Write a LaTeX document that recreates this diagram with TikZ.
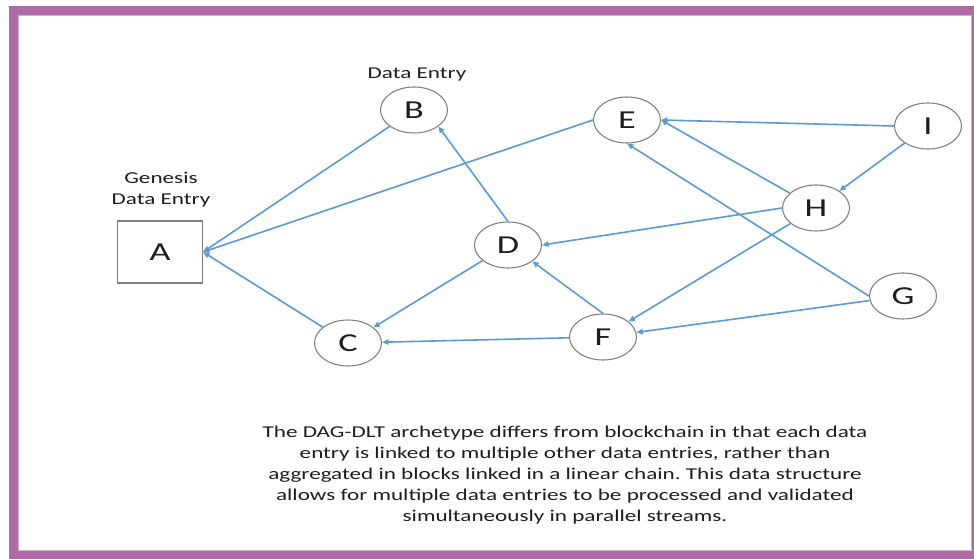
\documentclass[tikz,border=0pt]{standalone}
\usepackage{fontspec}
\setmainfont{Carlito}[FakeStretch=1.4]
\usetikzlibrary{arrows.meta,shapes.geometric}
\frenchspacing
\definecolor{framepurple}{RGB}{173,108,166}
\definecolor{frameedge}{RGB}{214,172,210}
\definecolor{linkblue}{RGB}{91,155,213}
\definecolor{outline}{RGB}{128,128,128}
\definecolor{ink}{RGB}{30,30,30}
\tikzset{
  entry/.style={ellipse, draw=outline, line width=0.8pt, fill=white,
    minimum width=50.25pt, minimum height=34.5pt, inner sep=0pt,
    text=ink, font=\fontsize{19.4}{22}\selectfont},
  genesis/.style={rectangle, draw=outline, line width=0.8pt, fill=white,
    minimum width=63.75pt, minimum height=46.5pt, inner sep=0pt,
    text=ink, font=\fontsize{19.4}{22}\selectfont},
  caption/.style={text=ink, font=\fontsize{12.4}{15.75}\selectfont, inner sep=0pt},
  link/.style={draw=linkblue, line width=1.2pt,
    -{Triangle[length=4.8pt,width=4pt]}, shorten >=0pt}
}
\begin{document}
\begin{tikzpicture}[x=0.75pt,y=-0.75pt]
  \useasboundingbox (0,0) rectangle (974,559);
  % frame
  \fill[framepurple] (9,6) rectangle (974,559);
  \fill[white] (18,15) rectangle (971,550);
  \draw[frameedge, line width=0.6pt] (18,15) rectangle (971,550);

  % entries
  \node[genesis] (A) at (160,252) {A};
  \node[entry] (B) at (414,110) {B};
  \node[entry] (C) at (348,343) {C};
  \node[entry] (D) at (508,245) {D};
  \node[entry] (E) at (627,120) {E};
  \node[entry] (F) at (603,337) {F};
  \node[entry] (G) at (903,296) {G};
  \node[entry] (H) at (816,208) {H};
  \node[entry] (I) at (928,126) {I};

  % labels (base anchor sits on the last line)
  \node[caption, align=center, anchor=base] (gen) at (161,205) {Genesis\\Data Entry};
  \node[caption, anchor=base] (blab) at (417,79) {Data Entry};

  % links
  \draw[link] (B) -- (A.east);
  \draw[link] (E.west) -- (A.east);
  \draw[link] (C) -- (A.east);
  \draw[link] (D.north) -- (B.-34);
  \draw[link] (D) -- (C);
  \draw[link] (H.west) -- (D.east);
  \draw[link] (F.north) -- (D.-34);
  \draw[link] (F) -- (C);
  \draw[link] (I.west) -- (E.east);
  \draw[link] (H) -- (E.east);
  \draw[link] (G.west) -- (E.south);
  \draw[link] (I) -- (H);
  \draw[link] (H) -- (F);
  \draw[link] (G) -- (F);

  % description
  \node[caption, align=center] (desc) at (565,475) {The DAG-DLT archetype differs from blockchain in that each data\\
    entry is linked to multiple other data entries, rather than\\
    aggregated in blocks linked in a linear chain. This data structure\\
    allows for multiple data entries to be processed and validated\\
    simultaneously in parallel streams.};
\end{tikzpicture}
\end{document}
